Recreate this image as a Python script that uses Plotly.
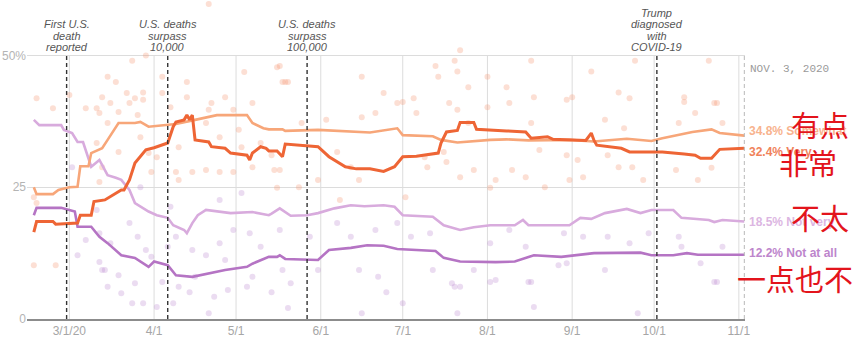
import plotly.graph_objects as go

# ---- Smoothed averages: how concerned Americans are about the coronavirus ----
somewhat_dates = ["2020-02-17", "2020-02-18", "2020-02-24", "2020-02-26", "2020-03-01", "2020-03-04",
                  "2020-03-05", "2020-03-08", "2020-03-09", "2020-03-13", "2020-03-15", "2020-03-19",
                  "2020-03-25", "2020-03-27", "2020-03-30", "2020-04-06", "2020-04-09", "2020-04-16",
                  "2020-04-24", "2020-05-05", "2020-05-07", "2020-05-11", "2020-05-13", "2020-05-18",
                  "2020-05-19", "2020-05-31", "2020-06-19", "2020-06-29", "2020-07-01", "2020-07-12",
                  "2020-07-15", "2020-07-21", "2020-08-02", "2020-08-08", "2020-08-16", "2020-08-31",
                  "2020-09-09", "2020-09-21", "2020-09-30", "2020-10-04", "2020-10-15", "2020-10-22",
                  "2020-10-25", "2020-11-03"]
somewhat_values = [25.0, 23.7, 23.7, 24.5, 25.0, 25.1,
                   29.0, 29.0, 31.5, 32.4, 34.0, 37.2,
                   37.2, 37.4, 36.5, 36.8, 37.0, 37.8,
                   38.7, 38.7, 37.2, 36.2, 36.0, 36.0,
                   35.7, 35.9, 35.4, 36.2, 34.9, 34.7,
                   34.0, 33.5, 34.0, 34.1, 33.9, 34.0,
                   33.7, 34.2, 33.8, 34.3, 35.5, 36.0,
                   35.3, 34.8]

very_dates = ["2020-02-17", "2020-02-18", "2020-02-24", "2020-02-25", "2020-03-04", "2020-03-05",
              "2020-03-09", "2020-03-10", "2020-03-14", "2020-03-17", "2020-03-20", "2020-03-21",
              "2020-03-23", "2020-03-25", "2020-03-29", "2020-04-01", "2020-04-06", "2020-04-08",
              "2020-04-09", "2020-04-12", "2020-04-13", "2020-04-14", "2020-04-15", "2020-04-16",
              "2020-04-21", "2020-04-22", "2020-04-27", "2020-04-29", "2020-05-05", "2020-05-06",
              "2020-05-07", "2020-05-10", "2020-05-12", "2020-05-13", "2020-05-16", "2020-05-18",
              "2020-05-19", "2020-05-31", "2020-06-04", "2020-06-10", "2020-06-14", "2020-06-19",
              "2020-06-24", "2020-06-28", "2020-07-01", "2020-07-06", "2020-07-14", "2020-07-15",
              "2020-07-17", "2020-07-21", "2020-07-22", "2020-07-27", "2020-07-28", "2020-08-08",
              "2020-08-15", "2020-08-17", "2020-08-23", "2020-08-25", "2020-09-06", "2020-09-08",
              "2020-09-09", "2020-09-10", "2020-09-19", "2020-09-22", "2020-10-04", "2020-10-12",
              "2020-10-16", "2020-10-18", "2020-10-22", "2020-10-25", "2020-11-03"]
very_values = [16.5, 18.5, 18.5, 18.0, 18.2, 19.7,
               19.7, 22.3, 22.6, 23.5, 24.5, 24.5,
               26.4, 29.6, 32.1, 32.5, 33.4, 36.5,
               37.4, 37.8, 38.7, 37.8, 38.7, 34.0,
               33.6, 32.7, 32.4, 31.5, 31.1, 30.2,
               31.5, 32.7, 32.4, 31.9, 31.9, 30.8,
               33.2, 32.7, 30.8, 28.9, 28.5, 28.5,
               28.0, 28.9, 30.8, 30.9, 31.5, 33.4,
               35.5, 35.8, 37.3, 37.3, 36.0, 35.7,
               35.5, 34.3, 34.6, 34.1, 33.9, 35.3,
               33.9, 33.0, 32.4, 31.7, 31.7, 31.3,
               31.1, 30.5, 30.5, 32.2, 32.4]

not_very_dates = ["2020-02-17", "2020-02-19", "2020-02-27", "2020-02-28", "2020-03-02", "2020-03-04",
                  "2020-03-06", "2020-03-07", "2020-03-09", "2020-03-12", "2020-03-15", "2020-03-18",
                  "2020-03-20", "2020-03-23", "2020-03-25", "2020-03-30", "2020-04-02", "2020-04-06",
                  "2020-04-08", "2020-04-12", "2020-04-13", "2020-04-15", "2020-04-17", "2020-04-20",
                  "2020-04-29", "2020-05-07", "2020-05-13", "2020-05-14", "2020-05-17", "2020-05-21",
                  "2020-05-27", "2020-05-31", "2020-06-06", "2020-06-12", "2020-06-17", "2020-06-24",
                  "2020-06-28", "2020-07-01", "2020-07-12", "2020-07-16", "2020-07-22", "2020-07-27",
                  "2020-08-02", "2020-08-11", "2020-08-14", "2020-08-16", "2020-08-31", "2020-09-04",
                  "2020-09-08", "2020-09-13", "2020-09-21", "2020-09-26", "2020-09-30", "2020-10-08",
                  "2020-10-11", "2020-10-21", "2020-10-23", "2020-10-26", "2020-11-03"]
not_very_values = [37.8, 36.8, 36.8, 35.9, 35.3, 33.6,
                   33.6, 32.1, 28.9, 30.2, 27.3, 26.8,
                   26.4, 24.5, 22.0, 20.4, 19.7, 19.2,
                   17.8, 16.9, 16.3, 18.2, 19.7, 20.7,
                   20.1, 20.3, 19.7, 20.0, 21.0, 19.6,
                   19.7, 20.1, 21.0, 21.6, 21.4, 21.6,
                   21.3, 19.7, 19.4, 17.8, 16.9, 17.4,
                   17.8, 17.8, 18.8, 17.8, 17.8, 19.2,
                   19.0, 20.1, 20.9, 20.1, 20.7, 20.7,
                   19.2, 18.8, 18.4, 18.8, 18.5]

not_at_all_dates = ["2020-02-17", "2020-02-18", "2020-02-27", "2020-03-01", "2020-03-03", "2020-03-04",
                    "2020-03-09", "2020-03-12", "2020-03-15", "2020-03-20", "2020-03-25", "2020-03-30",
                    "2020-04-01", "2020-04-06", "2020-04-09", "2020-04-15", "2020-04-21", "2020-04-27",
                    "2020-05-05", "2020-05-07", "2020-05-13", "2020-05-16", "2020-05-17", "2020-05-19",
                    "2020-05-31", "2020-06-04", "2020-06-12", "2020-06-18", "2020-06-24", "2020-06-29",
                    "2020-07-13", "2020-07-16", "2020-07-22", "2020-08-04", "2020-08-11", "2020-08-18",
                    "2020-08-28", "2020-09-09", "2020-09-26", "2020-09-30", "2020-10-08", "2020-10-13",
                    "2020-10-17", "2020-11-03"]
not_at_all_values = [19.7, 21.1, 21.1, 20.7, 20.4, 17.5,
                     17.5, 15.6, 14.4, 12.1, 11.6, 9.9,
                     10.9, 10.2, 8.3, 8.0, 8.7, 9.3,
                     9.9, 10.5, 11.8, 11.8, 12.1, 11.4,
                     11.2, 13.1, 13.5, 14.0, 13.9, 13.3,
                     12.9, 11.6, 10.9, 10.8, 10.9, 12.1,
                     11.8, 12.5, 12.6, 12.1, 12.1, 12.5,
                     12.2, 12.2]

# ---- Individual poll results ("concerned" answers) ----
poll_concerned_dates = [
    "2020-03-12", "2020-03-16", "2020-03-19", "2020-03-23", "2020-03-26", "2020-03-28", "2020-03-11",
    "2020-03-12", "2020-03-19", "2020-03-30", "2020-03-31", "2020-04-09", "2020-04-10", "2020-04-15",
    "2020-04-20", "2020-04-25", "2020-04-30", "2020-05-03", "2020-05-10", "2020-04-13", "2020-04-22",
    "2020-04-27", "2020-05-07", "2020-04-10", "2020-04-25", "2020-02-17", "2020-02-18", "2020-02-25",
    "2020-02-17", "2020-03-01", "2020-03-07", "2020-03-13", "2020-03-15", "2020-05-14", "2020-05-15",
    "2020-05-17", "2020-05-16", "2020-05-25", "2020-06-07", "2020-06-12", "2020-06-21", "2020-06-24",
    "2020-06-29", "2020-07-02", "2020-07-09", "2020-07-10", "2020-07-16", "2020-07-17", "2020-07-22",
    "2020-07-27", "2020-08-02", "2020-08-04", "2020-06-15", "2020-05-31", "2020-05-24", "2020-06-08",
    "2020-08-01", "2020-07-21", "2020-07-06", "2020-06-16", "2020-06-03", "2020-07-18", "2020-07-25",
    "2020-08-09", "2020-08-10", "2020-08-15", "2020-08-17", "2020-08-20", "2020-08-22", "2020-08-30",
    "2020-08-31", "2020-09-03", "2020-09-05", "2020-09-13", "2020-09-14", "2020-09-18", "2020-09-20",
    "2020-09-23", "2020-09-27", "2020-10-09", "2020-10-10", "2020-10-16", "2020-10-17", "2020-10-22",
    "2020-10-23", "2020-10-26", "2020-10-12", "2020-08-18", "2020-09-01", "2020-07-22", "2020-07-20",
    "2020-07-21", "2020-07-13", "2020-07-14", "2020-06-16", "2020-05-17", "2020-05-18", "2020-05-20",
    "2020-08-17", "2020-07-01", "2020-07-05", "2020-07-25", "2020-08-08", "2020-08-01", "2020-04-21",
    "2020-03-24", "2020-03-29", "2020-04-04", "2020-04-13", "2020-03-15", "2020-03-18", "2020-05-04",
    "2020-05-16", "2020-05-19", "2020-02-18", "2020-02-24", "2020-03-11", "2020-03-25", "2020-03-28",
    "2020-09-24", "2020-10-21", "2020-09-08", "2020-09-18", "2020-09-22", "2020-08-30", "2020-10-12",
    "2020-10-24", "2020-03-13", "2020-03-22", "2020-04-04", "2020-04-07", "2020-04-20", "2020-04-30",
    "2020-05-02", "2020-04-21", "2020-03-27", "2020-04-02", "2020-05-07"]
poll_concerned_values = [
    39.1, 41.0, 39.3, 41.0, 38.7, 41.6, 33.4,
    26.0, 31.7, 31.5, 27.9, 27.9, 26.4, 27.9,
    28.3, 27.9, 27.9, 32.6, 33.4, 42.1, 41.0,
    42.1, 41.0, 32.6, 34.5, 23.1, 22.0, 10.2,
    10.2, 42.5, 40.0, 28.8, 37.2, 31.1, 28.3,
    28.3, 24.9, 37.2, 31.7, 28.8, 39.1, 42.9,
    41.0, 23.1, 30.7, 28.8, 31.7, 29.8, 26.9,
    28.3, 24.9, 26.4, 26.4, 26.4, 25.0, 22.6,
    40.2, 39.7, 39.1, 38.3, 37.8, 41.0, 37.2,
    41.0, 28.3, 26.9, 37.2, 32.1, 25.0, 31.1,
    26.4, 30.2, 26.9, 37.8, 31.1, 28.8, 36.2,
    28.8, 26.4, 28.3, 37.2, 39.1, 26.4, 28.7,
    41.0, 37.2, 42.1, 42.1, 42.1, 51.0, 49.0,
    47.0, 48.0, 46.0, 46.0, 48.0, 45.0, 45.0,
    49.0, 41.2, 41.9, 44.0, 44.0, 46.0, 59.8,
    49.0, 50.0, 46.0, 45.0, 46.0, 45.0, 46.9,
    47.8, 45.0, 41.9, 40.0, 40.0, 41.9, 43.0,
    49.0, 49.0, 47.0, 43.0, 41.9, 41.6, 41.2,
    41.0, 42.1, 42.9, 42.9, 40.2, 37.2, 39.7,
    35.9, 39.7, 34.5, 30.7, 28.8]

# ---- Individual poll results ("not concerned" answers) ----
poll_unconcerned_dates = [
    "2020-03-02", "2020-03-11", "2020-03-12", "2020-03-16", "2020-03-23", "2020-03-26", "2020-03-29",
    "2020-03-31", "2020-04-06", "2020-04-09", "2020-04-15", "2020-04-20", "2020-04-25", "2020-04-30",
    "2020-05-06", "2020-05-10", "2020-03-13", "2020-03-19", "2020-03-25", "2020-04-04", "2020-04-10",
    "2020-04-16", "2020-04-27", "2020-05-07", "2020-03-15", "2020-03-20", "2020-03-24", "2020-03-28",
    "2020-04-02", "2020-04-08", "2020-04-14", "2020-04-21", "2020-04-23", "2020-04-28", "2020-05-05",
    "2020-05-14", "2020-05-20", "2020-06-16", "2020-06-25", "2020-07-01", "2020-07-20", "2020-07-22",
    "2020-07-21", "2020-08-02", "2020-08-17", "2020-08-18", "2020-09-25", "2020-10-23", "2020-05-17",
    "2020-05-18", "2020-05-21", "2020-06-07", "2020-06-12", "2020-06-21", "2020-06-15", "2020-06-22",
    "2020-06-29", "2020-07-04", "2020-07-11", "2020-07-12", "2020-07-19", "2020-07-27", "2020-08-02",
    "2020-08-04", "2020-05-28", "2020-05-31", "2020-08-09", "2020-08-15", "2020-08-29", "2020-08-30",
    "2020-09-05", "2020-09-13", "2020-09-14", "2020-09-22", "2020-09-29", "2020-10-10", "2020-10-11",
    "2020-10-18", "2020-10-26", "2020-10-24", "2020-08-16", "2020-08-27", "2020-03-27", "2020-04-07",
    "2020-04-25", "2020-05-03", "2020-03-04", "2020-03-12", "2020-03-14", "2020-03-07"]
poll_unconcerned_values = [
    28.8, 20.7, 16.3, 14.4, 18.2, 15.6, 13.1,
    11.8, 13.7, 15.6, 13.1, 12.1, 14.4, 16.9,
    16.3, 13.7, 9.3, 8.3, 6.8, 7.0, 6.1,
    8.0, 11.2, 8.0, 6.1, 4.9, 3.0, 3.0,
    2.3, 3.0, 5.1, 1.1, 4.2, 5.5, 6.1,
    5.1, 2.1, 1.1, 5.1, 3.0, 6.1, 6.1,
    1.1, 7.0, 7.0, 2.3, 1.1, 7.0, 16.9,
    9.3, 6.8, 18.2, 15.6, 16.9, 9.3, 8.0,
    18.2, 15.6, 16.3, 9.3, 6.8, 9.3, 14.4,
    7.4, 15.6, 9.3, 16.9, 13.7, 16.3, 10.6,
    15.6, 9.3, 15.6, 14.4, 16.3, 15.6, 13.7,
    10.6, 13.7, 7.0, 7.0, 10.2, 25.0, 21.3,
    22.6, 23.9, 12.1, 10.8, 9.3, 15.0]

# ---- Axis ticks and events ----
month_ticks = ["2020-03-01", "2020-04-01", "2020-05-01", "2020-06-01", "2020-07-01",
               "2020-08-01", "2020-09-01", "2020-10-01", "2020-11-01"]
month_labels = ["3/1/20", "4/1", "5/1", "6/1", "7/1", "8/1", "9/1", "10/1", "11/1"]
y_ticks = [0, 25, 50]
y_labels = ["0", "25", "50%"]

event_dates = ["2020-02-29", "2020-04-06", "2020-05-27", "2020-10-02"]
event_texts = [["First U.S.", "death", "reported"],
               ["U.S. deaths", "surpass", "10,000"],
               ["U.S. deaths", "surpass", "100,000"],
               ["Trump", "diagnosed", "with", "COVID-19"]]
end_date = "2020-11-03"

# ---- Colours ----
C_SOMEWHAT = "#f7a679"
C_VERY = "#ee6535"
C_NOT_VERY = "#d8abdd"
C_NOT_AT_ALL = "#b574c4"

X_RANGE = ["2020-02-14 12:00", "2020-11-03 06:00"]
Y_RANGE = [0, 60.55]
PLOT_W, PLOT_H = 718, 319

fig = go.Figure()

# poll dots
fig.add_trace(go.Scatter(x=poll_concerned_dates, y=poll_concerned_values, mode="markers",
                         marker=dict(size=6, color="rgba(245,150,112,0.30)"),
                         hoverinfo="skip", showlegend=False, cliponaxis=False))
fig.add_trace(go.Scatter(x=poll_unconcerned_dates, y=poll_unconcerned_values, mode="markers",
                         marker=dict(size=6, color="rgba(190,140,210,0.30)"),
                         hoverinfo="skip", showlegend=False, cliponaxis=False))

series = [
    ("Not at all", not_at_all_dates, not_at_all_values, C_NOT_AT_ALL, 2.6),
    ("Not very", not_very_dates, not_very_values, C_NOT_VERY, 2.6),
    ("Somewhat", somewhat_dates, somewhat_values, C_SOMEWHAT, 2.6),
    ("Very", very_dates, very_values, C_VERY, 3.0),
]
for name, xs, ys, col, w in series:
    fig.add_trace(go.Scatter(x=xs, y=ys, mode="lines", name=name,
                             line=dict(color=col, width=w), showlegend=False))

shapes = []
# month gridlines (only up to the 50% line)
for d in month_ticks:
    shapes.append(dict(type="line", xref="x", yref="y", x0=d, x1=d, y0=0, y1=50,
                       line=dict(color="#dcdcdc", width=1), layer="below"))
# event markers
for d in event_dates:
    shapes.append(dict(type="line", xref="x", yref="y", x0=d, x1=d, y0=0, y1=50,
                       line=dict(color="#333333", width=1.4, dash="4px,3px"), layer="above"))
shapes.append(dict(type="line", xref="x", yref="y", x0=end_date, x1=end_date, y0=0, y1=50,
                   line=dict(color="#b8b8b8", width=1, dash="4px,3px"), layer="above"))

annotations = []
px_per_unit = PLOT_H / (Y_RANGE[1] - Y_RANGE[0])
line_step = 11.5 / px_per_unit
for d, lines in zip(event_dates, event_texts):
    n = len(lines)
    for i, t in enumerate(lines):
        yv = 51.6 + (n - 1 - i) * line_step
        annotations.append(dict(x=d, y=yv, xref="x", yref="y", text="<i>" + t + "</i>",
                                showarrow=False, xanchor="center", yanchor="middle",
                                font=dict(family="Liberation Sans, Arial", size=11, color="#555555")))

annotations.append(dict(x=1, y=47.4, xref="paper", yref="y", text="NOV. 3, 2020", showarrow=False,
                        xanchor="left", yanchor="middle", xshift=3,
                        font=dict(family="Liberation Mono, DejaVu Sans Mono", size=11, color="#9a9a9a")))

# end-of-line value labels
end_labels = [
    ("Somewhat", somewhat_values[-1], 35.7, "#f8b38e"),
    ("Very", very_values[-1], 31.7, "#f0825a"),
    ("Not very", not_very_values[-1], 18.4, "#dcb6e2"),
    ("Not at all", not_at_all_values[-1], 12.5, "#bd85cc"),
]
for name, val, ypos, col in end_labels:
    annotations.append(dict(x=1, y=ypos, xref="paper", yref="y",
                            text="<b>%.1f%% %s</b>" % (val, name), showarrow=False,
                            xanchor="left", yanchor="middle", xshift=2,
                            font=dict(family="Liberation Sans, Arial", size=12, color=col)))

# handwritten Chinese glosses on the right
glosses = [("有点", 820, 124), ("非常", 808, 162), ("不太", 820, 217), ("一点也不", 795, 278)]
for txt, cx, cy in glosses:
    annotations.append(dict(x=(cx - 27) / PLOT_W, y=1 - cy / PLOT_H, xref="paper", yref="paper",
                            text=txt, showarrow=False, xanchor="center", yanchor="middle",
                            font=dict(family="Noto Sans CJK SC", size=29, color="#e3141c")))

fig.update_layout(
    width=860, height=337,
    margin=dict(l=27, r=115, t=0, b=18),
    paper_bgcolor="white", plot_bgcolor="white",
    shapes=shapes, annotations=annotations,
    xaxis=dict(type="date", range=X_RANGE, tickvals=month_ticks, ticktext=month_labels,
               showgrid=False, zeroline=False, showline=True, linecolor="#8c8c8c", linewidth=2,
               ticks="", tickfont=dict(family="Liberation Sans, Arial", size=12, color="#a6a6a6"),
               automargin=False, fixedrange=True),
    yaxis=dict(range=Y_RANGE, tickvals=y_ticks, ticktext=y_labels, showgrid=True,
               gridcolor="#dcdcdc", gridwidth=1, zeroline=False, showline=False, ticks="",
               tickfont=dict(family="Liberation Sans, Arial", size=12, color="#b4b4b4"),
               automargin=False, fixedrange=True),
    showlegend=False,
)

fig.write_html("out.html")
